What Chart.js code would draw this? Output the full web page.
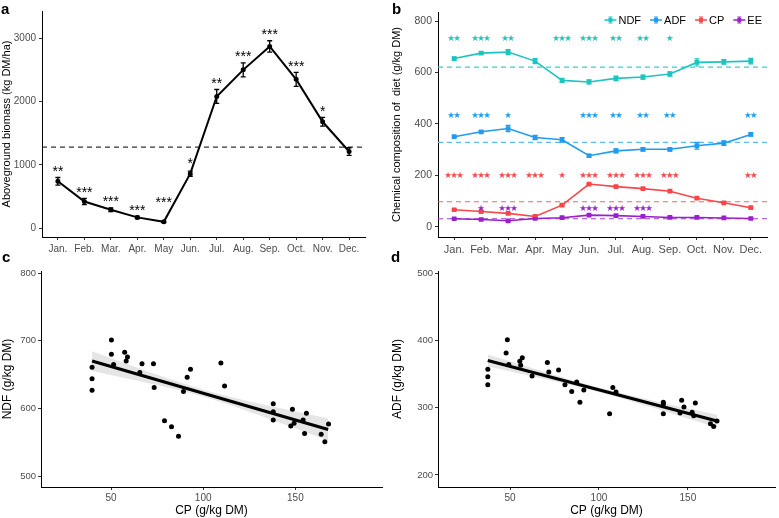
<!DOCTYPE html>
<html><head><meta charset="utf-8">
<script src="https://cdn.jsdelivr.net/npm/chart.js@4.4.1/dist/chart.umd.min.js"></script>
<style>
body{margin:0;background:#fff;}
#wrap{position:relative;width:779px;height:518px;overflow:hidden;font-family:"Liberation Sans",Arial,Helvetica,sans-serif;}
canvas{position:absolute;}
.lbl{position:absolute;font-weight:bold;font-size:15px;line-height:15px;color:#000;z-index:5;}
</style></head>
<body>
<div id="wrap">
  <canvas id="ca" width="390" height="262" style="left:0;top:0"></canvas>
  <canvas id="cb" width="389" height="262" style="left:390px;top:0"></canvas>
  <canvas id="cc" width="390" height="256" style="left:0;top:262px"></canvas>
  <canvas id="cd" width="389" height="256" style="left:390px;top:262px"></canvas>
  <div class="lbl" style="left:1px;top:1px">a</div>
  <div class="lbl" style="left:392px;top:1px">b</div>
  <div class="lbl" style="left:2px;top:249px">c</div>
  <div class="lbl" style="left:391px;top:249px">d</div>
</div>
<script>
// ---------- DATA ----------
const months = ['Jan.','Feb.','Mar.','Apr.','May','Jun.','Jul.','Aug.','Sep.','Oct.','Nov.','Dec.'];

// Panel a: aboveground biomass (kg DM/ha)
const biomass    = [740, 420, 290, 170, 100, 860, 2080, 2500, 2870, 2350, 1680, 1210];
const biomassErr = [60, 50, 30, 20, 12, 40, 110, 110, 90, 110, 70, 60];
const biomassSig = ['**','***','***','***','***','*','**','***','***','***','*',''];
const biomassSigY = [950, 620, 470, 340, 460, 1070, 2340, 2760, 3110, 2610, 1900, 0];
const biomassMean = 1280;
const biomassTicks = [0, 1000, 2000, 3000];

// Panel b: chemical composition (g/kg DM)
const ndf    = [654, 675, 679, 644, 569, 563, 577, 582, 594, 639, 641, 644];
const ndfErr = [6, 5, 10, 10, 8, 8, 9, 8, 8, 14, 9, 11];
const adf    = [350, 369, 382, 347, 338, 276, 295, 301, 301, 315, 325, 359];
const adfErr = [4, 4, 12, 8, 9, 5, 8, 6, 6, 13, 9, 6];
const cp     = [66, 59, 52, 40, 84, 166, 156, 148, 138, 111, 93, 74];
const cpErr  = [3, 3, 3, 3, 3, 3, 3, 3, 3, 3, 3, 3];
const ee     = [31, 28, 23, 32, 35, 45, 43, 40, 36, 36, 34, 32];
const eeErr  = [2, 2, 3, 2, 2, 2, 2, 2, 2, 2, 2, 2];
const ndfMean = 621, adfMean = 328, cpMean = 97, eeMean = 31;
const ndfSig = ['**','***','**','','***','***','**','**','*','','',''];
const adfSig = ['**','***','*','','','***','**','**','**','','','**'];
const cpSig  = ['***','***','***','***','*','***','***','***','***','','','**'];
const eeSig  = ['','*','***','','','***','***','***','','','',''];
const sigRowY = [729, 430, 199, 71];
const compTicks = [0, 200, 400, 600, 800];

// Panel c: NDF vs CP
const cpC  = [39.7,39.7,39.7,50.2,50.2,51.4,57.4,58.2,58.9,66.8,65.6,73,73.4,79,82.8,86.6,89.3,91.3,93.1,109.6,111.6,138,138,138,148.4,147.5,149.3,156,154.2,155,164,166,168];
const ndfC = [661,644,627,701,680,665,683,670,676,666,653,666,631,582,573,559,625,646,658,667,633,607,595,583,599,574,578,593,583,563,562,551,577];
const fitXC = [39.7, 167.8];
const fitYC = [670, 569];
const bandXC  = [39.7, 55, 70, 85, 100, 115, 130, 145, 167.8];
const bandHiC = [684.6, 669.4, 654.5, 640.4, 627.5, 616.8, 607.3, 598.4, 585.3];
const bandLoC = [655.4, 646.6, 637.5, 628.2, 617.5, 604.6, 590.3, 575.6, 552.7];
const cTicksX = [50, 100, 150];
const cTicksY = [500, 600, 700, 800];

// Panel d: ADF vs CP
const cpD  = [37.5,37.5,37.5,47.8,48.5,49.3,55.5,56,56.9,62.4,71,71.8,77.3,80.9,84.7,87.5,89.3,91.5,106,107.8,109.6,136.2,136.2,136.2,146.5,147.8,145.6,154.2,153.3,152.4,162.7,164.5,166.4];
const adfD = [357,346,334,381,401,364,369,363,374,347,367,353,356,334,324,338,308,326,291,330,323,308,305,291,311,301,292,307,288,293,276,272,280];
const fitXD = [37.5, 166.4];
const fitYD = [370, 280];
const bandXD  = [37.5, 55, 70, 85, 100, 115, 130, 145, 166.4];
const bandHiD = [379, 364.7, 352.6, 340.8, 329.9, 319.9, 310.7, 301.8, 289.5];
const bandLoD = [361, 350.9, 342, 332.8, 322.9, 311.9, 300.1, 288, 270.5];
const dTicksX = [50, 100, 150];
const dTicksY = [200, 300, 400, 500];

// ---------- STYLE ----------
const FONT = '"Liberation Sans", Arial, Helvetica, sans-serif';
const COL = {ndf:'#1dc5c1', adf:'#1f9cf2', cp:'#f7474b', ee:'#9a20cf'};
const DCOL = {ndf:'#3ccfcc', adf:'#5bbdf5', cp:'#f86466', ee:'#a43ed3'};

function axis(o){
  return {
    type:'linear', min:o.min, max:o.max, position:o.pos,
    border:{display:true, color:'#000', width:1},
    grid:{display:true, drawOnChartArea:false, drawTicks:true, tickLength:3, color:'#333', tickColor:'#333'},
    ticks:{color:'#4d4d4d', font:{family:FONT, size:o.fs}, padding:o.pad==null?2:o.pad, autoSkip:false, maxRotation:0, minRotation:0,
           callback:o.cb || ((v)=>String(v))},
    title:{display:!!o.title, text:o.title, color:'#000', font:{family:FONT, size:o.tfs}, padding:o.tpad || {top:0,bottom:2}},
    afterBuildTicks:(s)=>{ s.ticks = o.ticks.map(v=>({value:v})); },
    afterFit:(s)=>{ if(o.w!=null) s.width=o.w; if(o.h!=null) s.height=o.h; }
  };
}

function makeExtras(cfg){
  return {
    id:'extras',
    beforeDatasetsDraw(chart){
      const {ctx, chartArea:a, scales:{y}} = chart;
      (cfg.refs||[]).forEach(r=>{
        const py = y.getPixelForValue(r.v);
        ctx.save(); ctx.strokeStyle=r.color; ctx.lineWidth=r.w||1; ctx.setLineDash(r.dash||[5,4]);
        ctx.beginPath(); ctx.moveTo(a.left, py); ctx.lineTo(a.right, py); ctx.stroke(); ctx.restore();
      });
    },
    afterDatasetsDraw(chart){
      const {ctx, chartArea:a, scales:{x,y}} = chart;
      (cfg.err||[]).forEach(e=>{
        const vals = e.vals;
        ctx.save(); ctx.strokeStyle=e.color; ctx.lineWidth=e.w||1; ctx.setLineDash([]);
        vals.forEach((v,i)=>{
          const px = x.getPixelForValue(i);
          const y1 = y.getPixelForValue(v - e.err[i]), y2 = y.getPixelForValue(v + e.err[i]);
          ctx.beginPath();
          ctx.moveTo(px, y1); ctx.lineTo(px, y2);
          ctx.moveTo(px-e.cap, y1); ctx.lineTo(px+e.cap, y1);
          ctx.moveTo(px-e.cap, y2); ctx.lineTo(px+e.cap, y2);
          ctx.stroke();
        });
        ctx.restore();
      });
      (cfg.sig||[]).forEach(s=>{
        ctx.save(); ctx.fillStyle=s.color; ctx.font=s.font; ctx.textAlign='center'; ctx.textBaseline=s.baseline||'alphabetic';
        s.labels.forEach((t,i)=>{
          if(!t) return;
          const yv = Array.isArray(s.ys) ? s.ys[i] : s.ys;
          const px = x.getPixelForValue(i), py = y.getPixelForValue(yv) + (s.dy||0);
          if(s.char){
            const n = t.length; const sp = s.spacing;
            for(let k=0;k<n;k++){ ctx.fillText(s.char, px + (k-(n-1)/2)*sp, py); }
          } else ctx.fillText(t, px, py);
        });
        ctx.restore();
      });
      if(cfg.legend){
        const L = cfg.legend;
        ctx.save(); ctx.font = L.font; ctx.textBaseline='middle'; ctx.textAlign='left';
        const mw = 12, gap1 = 2, gap2 = 9;
        let total = 0;
        L.items.forEach((it,i)=>{ total += mw + gap1 + ctx.measureText(it.text).width + (i<L.items.length-1?gap2:0); });
        let cx = a.right - L.rightInset - total;
        const cy = a.top + L.dy;
        L.items.forEach(it=>{
          ctx.strokeStyle = it.color; ctx.fillStyle = it.color; ctx.lineWidth = 1.5;
          ctx.beginPath(); ctx.moveTo(cx, cy); ctx.lineTo(cx+mw, cy); ctx.stroke();
          ctx.lineWidth = 1;
          ctx.beginPath(); ctx.moveTo(cx+mw/2, cy-3); ctx.lineTo(cx+mw/2, cy+3);
          ctx.moveTo(cx+mw/2-2, cy-3); ctx.lineTo(cx+mw/2+2, cy-3);
          ctx.moveTo(cx+mw/2-2, cy+3); ctx.lineTo(cx+mw/2+2, cy+3); ctx.stroke();
          ctx.fillRect(cx+mw/2-2, cy-2, 4, 4);
          cx += mw + gap1;
          ctx.fillStyle = '#000';
          ctx.fillText(it.text, cx, cy+0.5);
          cx += ctx.measureText(it.text).width + gap2;
        });
        ctx.restore();
      }
    }
  };
}

const base = {responsive:false, animation:false, events:[], plugins:{legend:{display:false}, tooltip:{enabled:false}}};
const toXY = (arr)=>arr.map((v,i)=>({x:i, y:v}));
const pairs = (xs, ys)=>xs.map((v,i)=>({x:v, y:ys[i]}));

// ---------- PANEL A ----------
new Chart(document.getElementById('ca'), {
  type:'line',
  data:{datasets:[{data:toXY(biomass), borderColor:'#000', backgroundColor:'#000', borderWidth:2, pointRadius:1.5, tension:0}]},
  options:Object.assign({}, base, {
    layout:{padding:{left:0, top:11, right:25, bottom:0}},
    scales:{
      x: axis({min:-0.6, max:11.6, ticks:months.map((m,i)=>i), fs:10, pad:3, h:25, cb:(v)=>months[v], pos:'bottom'}),
      y: axis({min:-140, max:3430, ticks:biomassTicks, fs:10, pad:3, w:42, title:'Aboveground biomass (kg DM/ha)', tfs:11, pos:'left'})
    }
  }),
  plugins:[makeExtras({
    refs:[{v:biomassMean, color:'#000', dash:[5,4], w:1}],
    err:[{vals:biomass, err:biomassErr, color:'#000', w:1.3, cap:2.5}],
    sig:[{labels:biomassSig, ys:biomassSigY, color:'#000', font:'14px '+FONT, dy:8}]
  })]
});

// ---------- PANEL B ----------
const lineDS = (vals, c)=>({data:toXY(vals), borderColor:c, backgroundColor:c, borderWidth:1.6, pointRadius:2.2, pointStyle:'rect', tension:0});
new Chart(document.getElementById('cb'), {
  type:'line',
  data:{datasets:[lineDS(ndf, COL.ndf), lineDS(adf, COL.adf), lineDS(cp, COL.cp), lineDS(ee, COL.ee)]},
  options:Object.assign({}, base, {
    layout:{padding:{left:0, top:12, right:12, bottom:0}},
    scales:{
      x: axis({min:-0.6, max:11.6, ticks:months.map((m,i)=>i), fs:11, pad:3, h:25, cb:(v)=>months[v], pos:'bottom'}),
      y: axis({min:-40, max:835, ticks:compTicks, fs:10.5, pad:3, w:48, title:'Chemical composition of  diet (g/kg DM)', tfs:11, pos:'left'})
    }
  }),
  plugins:[makeExtras({
    refs:[{v:ndfMean, color:DCOL.ndf, dash:[5,4], w:1.2},{v:adfMean, color:DCOL.adf, dash:[5,4], w:1.2},
          {v:cpMean, color:DCOL.cp, dash:[5,4], w:1.2},{v:eeMean, color:DCOL.ee, dash:[5,4], w:1.2}],
    err:[{vals:ndf, err:ndfErr, color:COL.ndf, w:1.2, cap:2.5},{vals:adf, err:adfErr, color:COL.adf, w:1.2, cap:2.5},
         {vals:cp, err:cpErr, color:COL.cp, w:1.2, cap:2.5},{vals:ee, err:eeErr, color:COL.ee, w:1.2, cap:2.5}],
    sig:[{labels:ndfSig, ys:sigRowY[0], color:COL.ndf, font:'8.5px "DejaVu Sans"', char:'\u2605', spacing:6, baseline:'middle'},
         {labels:adfSig, ys:sigRowY[1], color:COL.adf, font:'8.5px "DejaVu Sans"', char:'\u2605', spacing:6, baseline:'middle'},
         {labels:cpSig,  ys:sigRowY[2], color:COL.cp,  font:'8.5px "DejaVu Sans"', char:'\u2605', spacing:6, baseline:'middle'},
         {labels:eeSig,  ys:sigRowY[3], color:COL.ee,  font:'8.5px "DejaVu Sans"', char:'\u2605', spacing:6, baseline:'middle'}],
    legend:{font:'11px '+FONT, rightInset:5, dy:8, items:[{text:'NDF',color:COL.ndf},{text:'ADF',color:COL.adf},{text:'CP',color:COL.cp},{text:'EE',color:COL.ee}]}
  })]
});

// ---------- PANELS C & D ----------
function scatterPanel(id, xs, ys, bx, bhi, blo, fx, fy, sc, ytitle, w, right){
  new Chart(document.getElementById(id), {
    type:'scatter',
    data:{datasets:[
      {data:pairs(bx, bhi), showLine:true, borderWidth:0, pointRadius:0, fill:'+1', backgroundColor:'rgba(215,215,215,0.65)', order:3},
      {data:pairs(bx, blo), showLine:true, borderWidth:0, pointRadius:0, fill:false, order:3},
      {data:pairs(xs, ys), pointRadius:2.5, backgroundColor:'#000', borderColor:'#000', borderWidth:0, order:2},
      {data:pairs(fx, fy), showLine:true, borderColor:'#000', borderWidth:3.2, pointRadius:0, fill:false, order:1}
    ]},
    options:Object.assign({}, base, {
      layout:{padding:{left:0, top:9, right:right, bottom:0}},
      scales:{
        x: axis({min:sc.xmin, max:sc.xmax, ticks:sc.tx, fs:10, pad:2, h:31, title:'CP (g/kg DM)', tfs:12, tpad:{top:1,bottom:0}, pos:'bottom'}),
        y: axis({min:sc.ymin, max:sc.ymax, ticks:sc.ty, fs:9.5, pad:2, w:w, title:ytitle, tfs:12, pos:'left'})
      }
    })
  });
}
scatterPanel('cc', cpC, ndfC, bandXC, bandHiC, bandLoC, fitXC, fitYC, {xmin:12, xmax:197, ymin:484, ymax:803, tx:cTicksX, ty:cTicksY}, 'NDF (g/kg DM)', 41, 8);
scatterPanel('cd', cpD, adfD, bandXD, bandHiD, bandLoD, fitXD, fitYD, {xmin:9.5, xmax:199, ymin:182, ymax:503, tx:dTicksX, ty:dTicksY}, 'ADF (g/kg DM)', 48, 1);
</script>
</body></html>
